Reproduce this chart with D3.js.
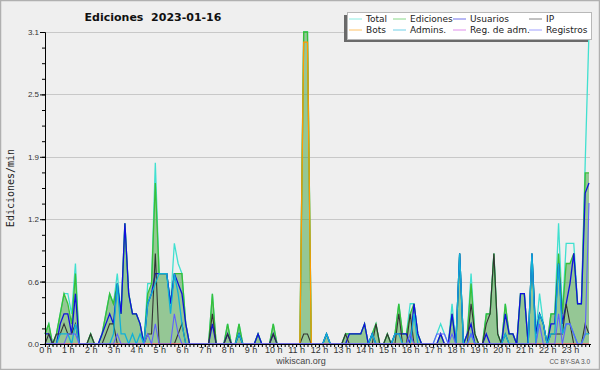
<!DOCTYPE html>
<html>
<head>
<meta charset="utf-8">
<script src="https://cdn.jsdelivr.net/npm/d3@7"></script>
<style>
  body { margin: 0; background: #efefef; }
  svg { display: block; }
</style>
</head>
<body>
<div id="chart"></div>
<script>
// Edits per minute, one value every 10 minutes (6 per hour, 0 h .. 23 h 50).
var hours = d3.range(0, 24);
var total = [
  0.1, 0.2, 0, 0.1, 0.3, 0.5,   0.5, 0.3, 0.8, 0, 0, 0,
  0.1, 0, 0, 0.1, 0.3, 0.5,     0.4, 0.7, 0.3, 1.2, 0.5, 0.3,
  0.3, 0.2, 0, 0.6, 0.6, 1.8,   0.7, 0.7, 0.7, 0.4, 1.0, 0.8,
  0.7, 0.2, 0, 0, 0, 0,         0, 0, 0.5, 0, 0, 0,
  0.2, 0, 0, 0.2, 0, 0,         0, 0, 0.1, 0, 0, 0,
  0.2, 0, 0, 0, 0, 0,           0, 0, 3.1, 3.1, 0, 0,
  0, 0, 0.1, 0, 0, 0,           0, 0.1, 0.1, 0.1, 0.1, 0.1,
  0.2, 0, 0.1, 0.2, 0, 0,       0.1, 0, 0.1, 0.4, 0.1, 0.1,
  0.4, 0.4, 0.1, 0, 0, 0,       0, 0.1, 0.2, 0.1, 0, 0.4,
  0, 0.9, 0, 0.1, 0.7, 0.1,     0, 0, 0.3, 0.3, 0.9, 0.1,
  0, 0.4, 0.1, 0.1, 0, 0.5,     0.5, 0, 0.9, 0.1, 0.5, 0.2,
  0, 0.3, 0.3, 1.2, 0.3, 1.0,   1.0, 1.0, 0.4, 0.4, 1.8, 3.1
];
var ediciones = [
  0.1, 0.2, 0, 0.1, 0.3, 0.5,   0.4, 0.2, 0.7, 0, 0, 0,
  0.1, 0, 0, 0.1, 0.3, 0.5,     0.4, 0.6, 0.3, 1.2, 0.5, 0.3,
  0.3, 0.2, 0, 0.5, 0.6, 1.6,   0.7, 0.7, 0.7, 0.4, 0.7, 0.7,
  0.7, 0.2, 0, 0, 0, 0,         0, 0, 0.5, 0, 0, 0,
  0.2, 0, 0, 0.2, 0, 0,         0, 0, 0.1, 0, 0, 0,
  0.2, 0, 0, 0, 0, 0,           0, 0, 3.1, 3.1, 0, 0,
  0, 0, 0.1, 0, 0, 0,           0, 0.1, 0.1, 0.1, 0.1, 0.1,
  0.2, 0, 0.1, 0.2, 0, 0,       0.1, 0, 0.1, 0.4, 0.1, 0.1,
  0.3, 0.4, 0.1, 0, 0, 0,       0, 0, 0.1, 0, 0, 0.3,
  0, 0.9, 0, 0.1, 0.6, 0.1,     0, 0, 0.3, 0.3, 0.9, 0.1,
  0, 0.4, 0.1, 0.1, 0, 0.5,     0.5, 0, 0.9, 0.1, 0.3, 0.2,
  0, 0.3, 0.3, 0.9, 0.3, 0.8,   0.8, 0.9, 0.4, 0.4, 1.7, 1.7
];
var usuarios = [
  0.1, 0.1, 0, 0, 0.2, 0.3,     0.3, 0.1, 0.5, 0, 0, 0,
  0, 0, 0, 0.1, 0.2, 0.3,       0.2, 0.6, 0.3, 1.2, 0.5, 0.3,
  0.3, 0.2, 0, 0.4, 0.5, 0.7,   0.7, 0.7, 0.7, 0.4, 0.7, 0.6,
  0.5, 0.2, 0, 0, 0, 0,         0, 0, 0.2, 0, 0, 0,
  0.1, 0, 0, 0.1, 0, 0,         0, 0, 0.1, 0, 0, 0,
  0.1, 0, 0, 0, 0, 0,           0, 0, 0, 0, 0, 0,
  0, 0, 0.1, 0, 0, 0,           0, 0, 0.1, 0.1, 0.1, 0.1,
  0.2, 0, 0.1, 0, 0, 0,         0, 0, 0.1, 0.1, 0.1, 0.1,
  0, 0.4, 0.1, 0, 0, 0,         0, 0, 0.1, 0, 0, 0.3,
  0, 0.9, 0, 0.1, 0.2, 0,       0, 0, 0.1, 0, 0, 0,
  0, 0.3, 0.1, 0.1, 0, 0.5,     0.5, 0, 0.9, 0.1, 0.3, 0.2,
  0, 0.2, 0.2, 0.8, 0.2, 0.4,   0.6, 0.9, 0.4, 0.4, 1.5, 1.6
];
var ip = [
  0, 0.1, 0, 0.1, 0.1, 0.2,     0.1, 0.1, 0.2, 0, 0, 0,
  0.1, 0, 0, 0, 0.1, 0.2,       0.2, 0, 0, 0, 0, 0,
  0, 0, 0, 0.1, 0.1, 0.9,       0, 0, 0, 0, 0, 0.1,
  0.2, 0, 0, 0, 0, 0,           0, 0, 0.3, 0, 0, 0,
  0.1, 0, 0, 0.1, 0, 0,         0, 0, 0, 0, 0, 0,
  0.1, 0, 0, 0, 0, 0,           0, 0, 0.1, 0.1, 0, 0,
  0, 0, 0, 0, 0, 0,             0, 0.1, 0, 0, 0, 0,
  0, 0, 0, 0.2, 0, 0,           0.1, 0, 0, 0.3, 0, 0,
  0.3, 0, 0, 0, 0, 0,           0, 0, 0, 0, 0, 0,
  0, 0, 0, 0, 0.4, 0.1,         0, 0, 0.2, 0.3, 0.9, 0.1,
  0, 0.1, 0, 0, 0, 0,           0, 0, 0, 0, 0, 0,
  0, 0.1, 0.1, 0.1, 0.1, 0.4,   0.2, 0, 0, 0, 0.2, 0.1
];
var bots = [
  0, 0, 0, 0, 0, 0,   0, 0, 0, 0, 0, 0,
  0, 0, 0, 0, 0, 0,   0, 0, 0, 0, 0, 0,
  0, 0, 0, 0, 0, 0,   0, 0, 0, 0, 0, 0,
  0, 0, 0, 0, 0, 0,   0, 0, 0, 0, 0, 0,
  0, 0, 0, 0, 0, 0,   0, 0, 0, 0, 0, 0,
  0, 0, 0, 0, 0, 0,   0, 0, 3.0, 3.0, 0, 0,
  0, 0, 0, 0, 0, 0,   0, 0, 0, 0, 0, 0,
  0, 0, 0, 0, 0, 0,   0, 0, 0, 0, 0, 0,
  0, 0, 0, 0, 0, 0,   0, 0, 0, 0, 0, 0,
  0, 0, 0, 0, 0, 0,   0, 0, 0, 0, 0, 0,
  0, 0, 0, 0, 0, 0,   0, 0, 0, 0, 0, 0,
  0, 0, 0, 0, 0, 0,   0, 0, 0, 0, 0, 0
];
var admins = [
  0, 0, 0, 0, 0.1, 0.1,         0.1, 0, 0.2, 0, 0, 0,
  0, 0, 0, 0, 0, 0,             0.1, 0.6, 0.1, 0.1, 0, 0.1,
  0, 0.1, 0, 0.4, 0.5, 0.6,     0.7, 0.7, 0.7, 0.3, 0.7, 0.5,
  0.2, 0, 0, 0, 0, 0,           0, 0, 0, 0, 0, 0,
  0, 0, 0, 0.1, 0, 0,           0, 0, 0, 0, 0, 0,
  0, 0, 0, 0, 0, 0,             0, 0, 0, 0, 0, 0,
  0, 0, 0.1, 0, 0, 0,           0, 0, 0, 0, 0, 0,
  0, 0, 0.1, 0, 0, 0,           0, 0, 0.1, 0.1, 0, 0,
  0, 0.3, 0, 0, 0, 0,           0, 0, 0, 0, 0, 0,
  0, 0.9, 0, 0, 0.1, 0,         0, 0, 0, 0, 0, 0,
  0, 0.1, 0, 0, 0, 0,           0, 0, 0.9, 0, 0.3, 0.2,
  0, 0.1, 0.1, 0.8, 0.1, 0.2,   0.2, 0.1, 0, 0, 0.1, 0.1
];
var regAdm = [
  0, 0, 0, 0, 0, 0,   0, 0, 0, 0, 0, 0,
  0, 0, 0, 0, 0, 0,   0, 0, 0, 0, 0, 0,
  0, 0, 0, 0, 0, 0,   0, 0, 0, 0, 0, 0,
  0, 0, 0, 0, 0, 0,   0, 0, 0, 0, 0, 0,
  0, 0, 0, 0, 0, 0,   0, 0, 0, 0, 0, 0,
  0, 0, 0, 0, 0, 0,   0, 0, 0, 0, 0, 0,
  0, 0, 0, 0, 0, 0,   0, 0, 0, 0, 0, 0,
  0, 0, 0, 0, 0, 0,   0, 0, 0, 0, 0, 0,
  0, 0, 0, 0, 0, 0,   0, 0, 0, 0, 0, 0,
  0, 0, 0, 0, 0, 0,   0, 0, 0, 0, 0, 0,
  0, 0, 0, 0, 0, 0,   0, 0, 0, 0, 0, 0,
  0, 0, 0, 0, 0, 0,   0, 0, 0, 0, 0, 0
];
var registros = [
  0, 0, 0, 0, 0, 0,             0.1, 0.1, 0.1, 0, 0, 0,
  0, 0, 0, 0, 0, 0,             0, 0.1, 0, 0, 0, 0,
  0, 0, 0, 0.1, 0, 0.2,         0, 0, 0, 0, 0.3, 0.1,
  0, 0, 0, 0, 0, 0,             0, 0, 0, 0, 0, 0,
  0, 0, 0, 0, 0, 0,             0, 0, 0, 0, 0, 0,
  0, 0, 0, 0, 0, 0,             0, 0, 0, 0, 0, 0,
  0, 0, 0, 0, 0, 0,             0, 0, 0, 0, 0, 0,
  0, 0, 0, 0, 0, 0,             0, 0, 0, 0, 0, 0,
  0.1, 0, 0, 0, 0, 0,           0, 0.1, 0.1, 0.1, 0, 0.1,
  0, 0, 0, 0, 0.1, 0,           0, 0, 0, 0, 0, 0,
  0, 0, 0, 0, 0, 0,             0, 0, 0, 0, 0.2, 0,
  0, 0, 0, 0.3, 0, 0.2,         0.2, 0.1, 0, 0, 0.1, 1.4
];

var legendLabels = ["Total", "Ediciones", "Usuarios", "IP", "Bots", "Admins.", "Reg. de adm.", "Registros"];
var legendColors = ["#40e0d0", "#38c038", "#1010dd", "#333333", "#ff9900", "#10b0d8", "#cc44dd", "#6060ff"];

(function () {
  var width = 600, height = 370,
    plotLeft = 45, plotRight = 589, plotTop = 32, plotBottom = 344,
    sansFont = '"DejaVu Sans", sans-serif',
    smallFont = '"Liberation Sans", Arial, sans-serif';

  var svg = d3.select("#chart").append("svg")
    .attr("width", width)
    .attr("height", height);

  // Frame.
  svg.append("rect")
    .attr("x", 0.5).attr("y", 0.5)
    .attr("width", width - 1).attr("height", height - 1)
    .style("fill", "#efefef")
    .style("stroke", "#b0b0b0")
    .style("stroke-width", 1.5);

  var x = d3.scaleLinear().domain([0, 143]).range([plotLeft, plotRight]);
  var y = d3.scaleLinear().domain([0, 3.1]).range([plotBottom, plotTop]);

  var majorY = d3.range(0, 6).map(function(k) { return k * 3.1 / 5; });
  var minorY = d3.range(0, 21).map(function(k) { return k * 3.1 / 20; });

  // Grid lines.
  svg.append("g")
    .selectAll("line")
    .data(majorY.slice(1))
    .enter().append("line")
      .attr("x1", plotLeft).attr("x2", plotRight + 1)
      .attr("y1", function(d) { return Math.round(y(d)) + 0.5; })
      .attr("y2", function(d) { return Math.round(y(d)) + 0.5; })
      .style("stroke", "#c8c8c8")
      .style("stroke-width", 1);

  var line = function(values) {
    return d3.line()
      .x(function(d, i) { return x(i); })
      .y(function(d) { return y(d); })(values);
  };

  // Total line first, the edits area goes over it.
  svg.append("path")
    .attr("d", line(total))
    .style("fill", "none")
    .style("stroke", legendColors[0])
    .style("stroke-width", 1.3);

  var area = d3.area()
    .x(function(d, i) { return x(i); })
    .y0(y(0))
    .y1(function(d) { return y(d); });

  svg.append("path")
    .attr("d", area(ediciones))
    .style("fill", "#3ca03c")
    .style("fill-opacity", 0.5);

  var series = [ediciones, usuarios, ip, bots, admins, regAdm, registros];
  var seriesColor = legendColors.slice(1);
  var seriesWidth = [1.3, 1.3, 1.1, 1.3, 1.3, 1.1, 1.1];
  series.forEach(function(values, k) {
    svg.append("path")
      .attr("d", line(values))
      .style("fill", "none")
      .style("stroke", seriesColor[k])
      .style("stroke-width", seriesWidth[k]);
  });

  // Y axis: labelled ticks and minor ticks.
  var yAxis = svg.append("g")
    .attr("transform", "translate(" + plotLeft + ",0)")
    .call(d3.axisLeft(y).tickValues(majorY).tickSize(5).tickSizeOuter(0).tickPadding(1)
      .tickFormat(function(d) { return d.toFixed(1); }));
  svg.append("g")
    .attr("transform", "translate(" + plotLeft + ",0)")
    .call(d3.axisLeft(y).tickValues(minorY).tickSize(3).tickSizeOuter(0).tickFormat(""));
  yAxis.selectAll("text")
    .style("font-family", smallFont)
    .style("font-size", "8px")
    .style("fill", "#333");

  // X axis: one tick every 10 minutes, labels on the hours.
  svg.append("g")
    .attr("transform", "translate(0," + plotBottom + ")")
    .call(d3.axisBottom(x).tickValues(d3.range(0, 144)).tickSize(3).tickSizeOuter(0).tickFormat(""));
  var xAxis = svg.append("g")
    .attr("transform", "translate(0," + plotBottom + ")")
    .call(d3.axisBottom(x).tickValues(hours.map(function(h) { return h * 6; }))
      .tickSize(3).tickSizeOuter(0).tickPadding(0)
      .tickFormat(function(d) { return (d / 6) + " h"; }));
  xAxis.select(".domain").attr("d", "M" + plotLeft + ",0.5H" + (plotRight + 2));
  xAxis.selectAll("text")
    .style("font-family", smallFont)
    .style("font-size", "9px")
    .style("fill", "#333");
  svg.selectAll(".domain, .tick line").style("stroke", "#000");

  // Title.
  svg.append("text")
    .text("Ediciones\u00a0\u00a02023-01-16")
    .attr("x", 153)
    .attr("y", 21)
    .style("text-anchor", "middle")
    .style("font-family", sansFont)
    .style("font-weight", "bold")
    .style("font-size", "11px")
    .style("fill", "#111");

  // Y label.
  svg.append("text")
    .text("Ediciones/min")
    .attr("transform", "translate(14,188) rotate(-90)")
    .style("text-anchor", "middle")
    .style("font-family", '"DejaVu Sans Mono", monospace')
    .style("font-size", "10px")
    .style("fill", "#222");

  // Footer.
  svg.append("text")
    .text("wikiscan.org")
    .attr("x", 301).attr("y", 364)
    .style("text-anchor", "middle")
    .style("font-family", smallFont)
    .style("font-size", "9px")
    .style("fill", "#444");
  svg.append("text")
    .text("CC BY-SA 3.0")
    .attr("x", 590).attr("y", 364)
    .style("text-anchor", "end")
    .style("font-family", smallFont)
    .style("font-size", "6.5px")
    .style("fill", "#555");

  // Legend with its shadow.
  svg.append("rect")
    .attr("x", 344).attr("y", 15).attr("width", 244).attr("height", 27)
    .style("fill", "#6a6a6a");
  svg.append("rect")
    .attr("x", 347.5).attr("y", 12.5).attr("width", 244).attr("height", 27)
    .style("fill", "#fff")
    .style("stroke", "#b8b8b8");

  var legendCols = [349, 393, 453, 529], legendRows = [18.5, 29.5];
  var legend = svg.selectAll(".legend")
    .data(legendLabels)
    .enter().append("g")
      .attr("transform", function(d, i) {
        return "translate(" + legendCols[i % 4] + "," + legendRows[Math.floor(i / 4)] + ")";
      });
  legend.append("line")
    .attr("x1", 0).attr("x2", 13)
    .attr("y1", 0.5).attr("y2", 0.5)
    .style("stroke", function(d, i) { return legendColors[i]; })
    .style("stroke-opacity", 0.6);
  legend.append("text")
    .text(function(d) { return d; })
    .attr("x", 17)
    .attr("y", 3.5)
    .style("font-family", sansFont)
    .style("font-size", "9px")
    .style("fill", "#222");
})();
</script>
</body>
</html>
